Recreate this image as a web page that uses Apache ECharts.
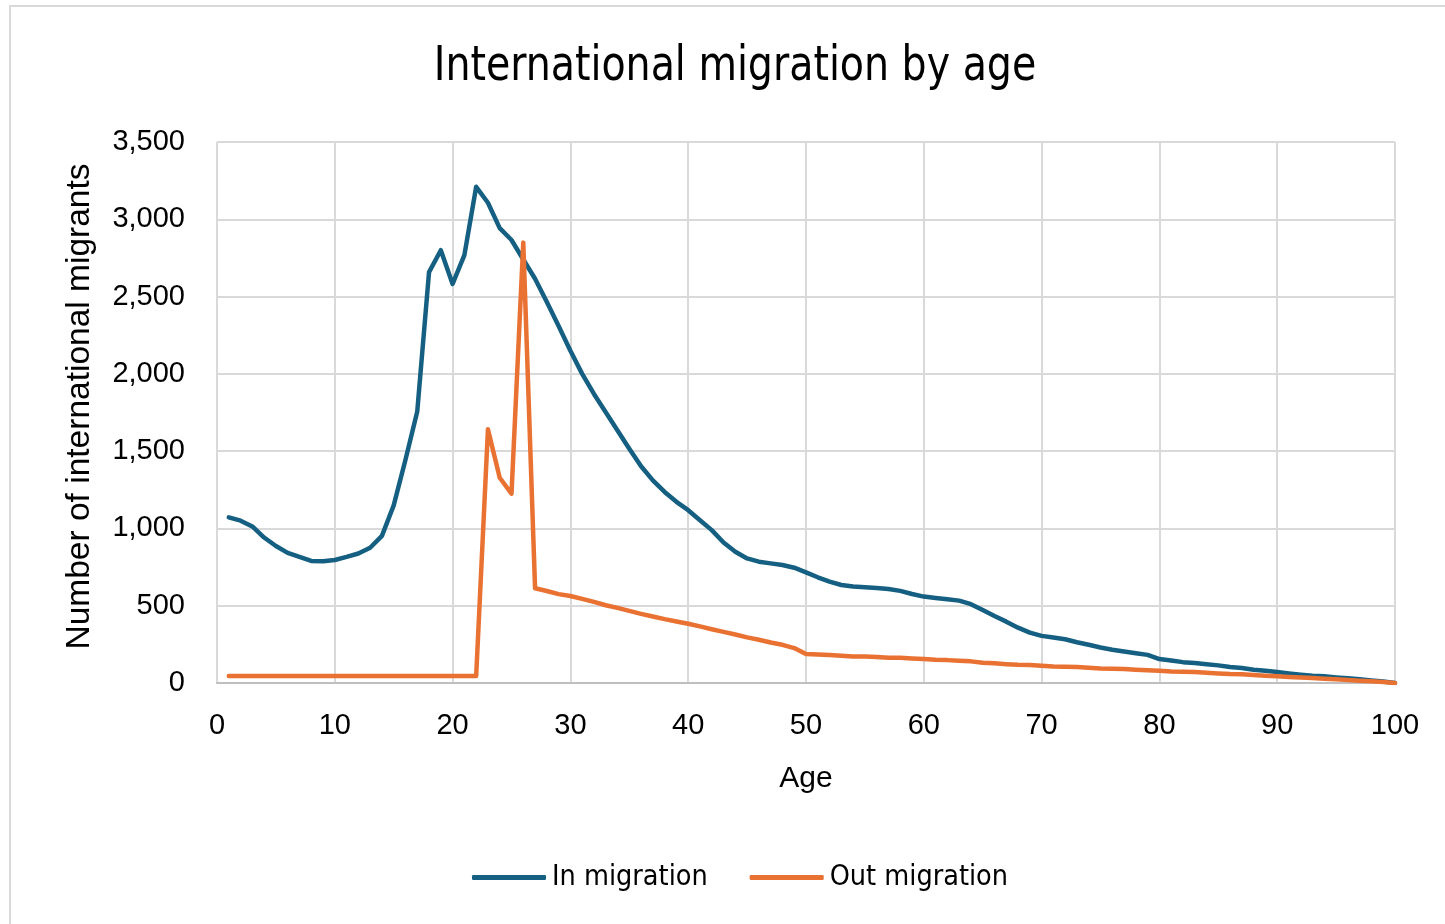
<!DOCTYPE html>
<html>
<head>
<meta charset="utf-8">
<title>International migration by age</title>
<script src="https://cdn.jsdelivr.net/npm/echarts@6/dist/echarts.min.js"></script>
<style>
  html, body { margin: 0; padding: 0; background: #ffffff; }
  #chart { width: 1445px; height: 924px; }
</style>
</head>
<body>
<div id="chart"></div>
<script>
// Single years of age
const ages = [
  1, 2, 3, 4, 5, 6, 7, 8, 9, 10,
  11, 12, 13, 14, 15, 16, 17, 18, 19, 20,
  21, 22, 23, 24, 25, 26, 27, 28, 29, 30,
  31, 32, 33, 34, 35, 36, 37, 38, 39, 40,
  41, 42, 43, 44, 45, 46, 47, 48, 49, 50,
  51, 52, 53, 54, 55, 56, 57, 58, 59, 60,
  61, 62, 63, 64, 65, 66, 67, 68, 69, 70,
  71, 72, 73, 74, 75, 76, 77, 78, 79, 80,
  81, 82, 83, 84, 85, 86, 87, 88, 89, 90,
  91, 92, 93, 94, 95, 96, 97, 98, 99, 100
];

// Number of international in-migrants at each age
const inMigration = [
  1072, 1050, 1013, 941, 886, 842, 816, 790, 787, 796,
  816, 838, 875, 952, 1149, 1444, 1757, 2658, 2800, 2582,
  2768, 3210, 3107, 2943, 2866, 2740, 2615, 2465, 2310, 2150,
  2000, 1870, 1752, 1634, 1516, 1402, 1311, 1236, 1172, 1118,
  1053, 989, 909, 849, 806, 785, 774, 763, 746, 716,
  684, 656, 634, 624, 619, 615, 608, 596, 576, 559,
  550, 542, 533, 510, 472, 433, 397, 358, 326, 305,
  294, 283, 264, 247, 230, 215, 204, 193, 182, 155,
  146, 135, 129, 122, 114, 103, 97, 86, 79, 71,
  62, 54, 47, 43, 36, 30, 24, 17, 9, 0
];

// Number of international out-migrants at each age
const outMigration = [
  45, 45, 45, 45, 45, 45, 45, 45, 45, 45,
  45, 45, 45, 45, 45, 45, 45, 45, 45, 45,
  45, 45, 1641, 1328, 1225, 2849, 613, 595, 575, 563,
  544, 525, 503, 486, 467, 447, 430, 413, 398, 383,
  366, 348, 331, 314, 295, 280, 262, 247, 226, 187,
  185, 181, 176, 172, 172, 168, 163, 163, 159, 155,
  150, 148, 144, 140, 131, 127, 122, 118, 116, 112,
  107, 105, 103, 99, 94, 92, 90, 86, 82, 79,
  75, 73, 71, 67, 62, 58, 56, 52, 47, 43,
  39, 36, 32, 28, 24, 19, 15, 11, 6, 0
];

const chartTitle = 'International migration by age';
const seriesNames = ['In migration', 'Out migration'];
const seriesColors = ['#156082', '#E97132'];

const narrowFont = '"Liberation Sans Narrow", "Arial Narrow", "DejaVu Sans Condensed", "Liberation Sans", sans-serif';
const axisFont = '"Liberation Sans", Arial, sans-serif';

const toPairs = vals => ages.map((a, i) => [a, vals[i]]);

const chart = echarts.init(document.getElementById('chart'), null, { renderer: 'canvas' });

chart.setOption({
  backgroundColor: '#ffffff',
  animation: false,
  graphic: [
    {
      // chart-area frame
      type: 'rect',
      shape: { x: 10, y: 6, width: 1460, height: 940 },
      style: { fill: 'none', stroke: '#D9D9D9', lineWidth: 2 },
      silent: true,
      z: -1
    },
    {
      // condensed title
      type: 'text',
      x: 735,
      y: 68,
      scaleX: 0.915,
      silent: true,
      style: {
        text: chartTitle,
        fontFamily: narrowFont,
        fontSize: 48,
        fill: '#000000',
        align: 'center',
        verticalAlign: 'middle'
      }
    }
  ],
  legend: {
    data: seriesNames,
    bottom: 27,
    left: 467,
    icon: 'roundRect',
    itemWidth: 74,
    itemHeight: 5,
    itemGap: 42,
    textStyle: {
      fontFamily: narrowFont,
      fontSize: 28.5,
      color: '#000000',
      padding: [0, 0, 0, 1]
    }
  },
  grid: {
    left: 217,
    right: 50,
    top: 142,
    bottom: 241,
    containLabel: false
  },
  xAxis: {
    type: 'value',
    min: 0,
    max: 100,
    interval: 10,
    name: 'Age',
    nameLocation: 'middle',
    nameGap: 81,
    nameTextStyle: {
      fontFamily: axisFont,
      fontSize: 30,
      color: '#000000'
    },
    axisLine: { show: true, lineStyle: { color: '#BFBFBF', width: 2 } },
    axisTick: { show: false },
    axisLabel: {
      fontFamily: axisFont,
      fontSize: 29,
      color: '#000000',
      margin: 28
    },
    splitLine: { show: true, lineStyle: { color: '#D9D9D9', width: 2 } }
  },
  yAxis: {
    type: 'value',
    min: 0,
    max: 3500,
    interval: 500,
    name: 'Number of international migrants',
    nameLocation: 'middle',
    nameGap: 120,
    nameTextStyle: {
      fontFamily: axisFont,
      fontSize: 33.5,
      color: '#000000',
      padding: [0, 0, 0, 12]
    },
    axisLine: { show: false },
    axisTick: { show: false },
    axisLabel: {
      fontFamily: axisFont,
      fontSize: 29,
      color: '#000000',
      margin: 32,
      formatter: v => v.toLocaleString('en-US')
    },
    splitLine: { show: true, lineStyle: { color: '#D9D9D9', width: 2 } }
  },
  series: [
    {
      name: seriesNames[0],
      type: 'line',
      data: toPairs(inMigration),
      showSymbol: false,
      symbol: 'none',
      smooth: false,
      color: seriesColors[0],
      lineStyle: { width: 4.5, color: seriesColors[0], cap: 'round', join: 'round' }
    },
    {
      name: seriesNames[1],
      type: 'line',
      data: toPairs(outMigration),
      showSymbol: false,
      symbol: 'none',
      smooth: false,
      color: seriesColors[1],
      lineStyle: { width: 4.5, color: seriesColors[1], cap: 'round', join: 'round' }
    }
  ]
});
</script>
</body>
</html>
